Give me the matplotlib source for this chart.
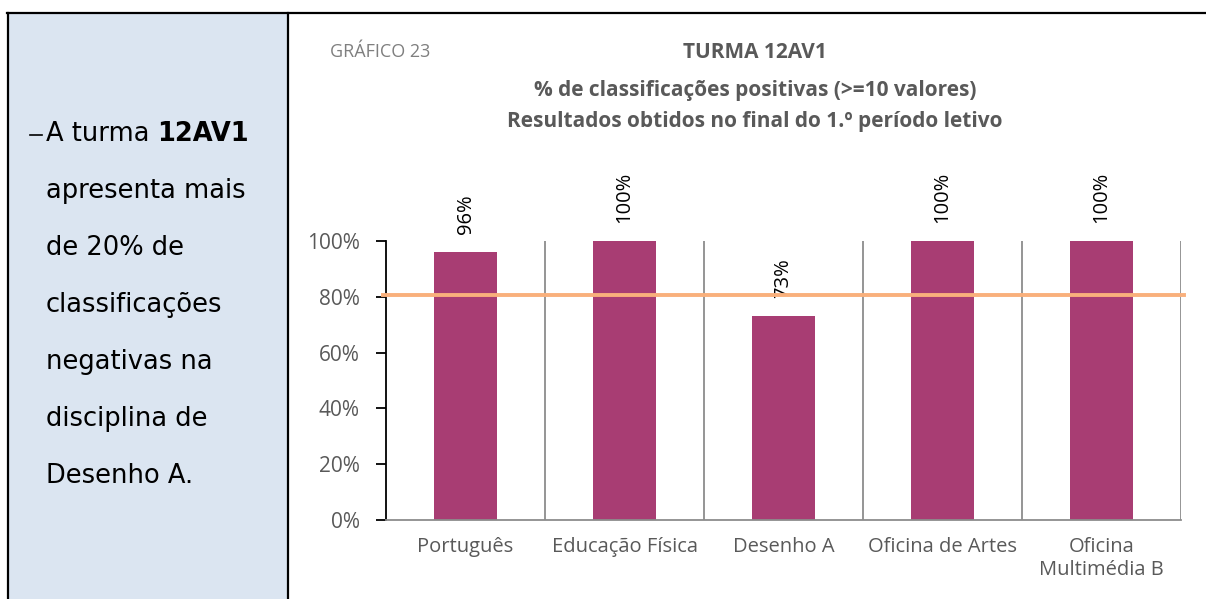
import matplotlib.pyplot as plt
from matplotlib.patches import Rectangle
from matplotlib.lines import Line2D
import numpy as np

# data
disciplinas = ['Português', 'Educação Física', 'Desenho A', 'Oficina de Artes', 'Oficina\nMultimédia B']
positivas = [96, 100, 73, 100, 100]
meta = 80.5

W, H = 1206, 599
fig = plt.figure(figsize=(W / 100, H / 100), dpi=100)

def fx(px):
    return px / W

def fy(py):
    return 1 - py / H

# left text panel
fig.patches.append(Rectangle((fx(8), 0), fx(280), fy(13), transform=fig.transFigure,
                             facecolor='#dbe5f1', edgecolor='none', zorder=0))
fig.lines.append(Line2D([fx(7), 1], [fy(12.5), fy(12.5)], transform=fig.transFigure, color='black', lw=1.6))
fig.lines.append(Line2D([fx(7.5), fx(7.5)], [0, fy(12.5)], transform=fig.transFigure, color='black', lw=1.6))
fig.lines.append(Line2D([fx(288), fx(288)], [0, fy(12.5)], transform=fig.transFigure, color='black', lw=1.6))

painel = [('A turma ', '12AV1'), ('apresenta mais', ''), ('de 20% de', ''), ('classificações', ''),
          ('negativas na', ''), ('disciplina de', ''), ('Desenho A.', '')]
fs_painel = 18.5
fig.lines.append(Line2D([fx(30), fx(42)], [fy(135), fy(135)], transform=fig.transFigure, color='black', lw=1.2))
for i, (txt, negrito) in enumerate(painel):
    y = fy(134 + i * 57)
    t = fig.text(fx(46), y, txt, fontsize=fs_painel, color='black', va='center', ha='left', family='DejaVu Sans')
    if negrito:
        fig.canvas.draw()
        bb = t.get_window_extent()
        fig.text(bb.x1 / W, y, negrito, fontsize=fs_painel, fontweight='bold', color='black',
                 va='center', ha='left', family='DejaVu Sans')

# chart
ax = fig.add_axes([fx(386), fy(520), fx(1181) - fx(386), fy(241) - fy(520)])
x = np.arange(len(disciplinas))
ax.bar(x, positivas, width=0.4, color='#a83d73', zorder=2)
ax.set_xlim(-0.5, len(disciplinas) - 0.5)
ax.set_ylim(0, 100)

for xv in np.arange(0.5, len(disciplinas), 1.0):
    ax.axvline(xv, color='#8c8c8c', lw=1.3, zorder=1)

ax.plot([-0.52, len(disciplinas) - 0.48], [meta, meta], color='#f9b07c', lw=2.8, zorder=5, clip_on=False)

for xi, v in zip(x, positivas):
    ax.annotate(f'{v}%', (xi, v), xytext=(0, 13), textcoords='offset points', rotation=90,
                ha='center', va='bottom', fontsize=14.5, color='black', family='Open Sans',
                zorder=4, annotation_clip=False)

ax.set_yticks(range(0, 101, 20))
ax.set_yticklabels([f'{v}%' for v in range(0, 101, 20)], fontsize=15, color='#595959', family='Open Sans')
ax.set_xticks(x)
ax.set_xticklabels(disciplinas, fontsize=14.5, color='#595959', family='Open Sans', va='top', linespacing=1.25)
ax.tick_params(axis='x', length=0, pad=12)
ax.tick_params(axis='y', length=7, width=1.3, color='black', direction='out', pad=12)

for s in ['top', 'right']:
    ax.spines[s].set_visible(False)
ax.spines['left'].set_color('black')
ax.spines['left'].set_linewidth(1.3)
ax.spines['bottom'].set_color('#8c8c8c')
ax.spines['bottom'].set_linewidth(1.3)

fig.text(fx(330), fy(52), 'GRÁFICO 23', fontsize=13, color='#7f7f7f', va='center', ha='left', family='Open Sans')
fig.text(fx(755), fy(52), 'TURMA 12AV1', fontsize=15, fontweight='bold', color='#595959', ha='center', va='center', family='Open Sans')
fig.text(fx(755), fy(90), '% de classificações positivas (>=10 valores)', fontsize=15, fontweight='bold',
         color='#595959', ha='center', va='center', family='Open Sans')
fig.text(fx(755), fy(121), 'Resultados obtidos no final do 1.º período letivo', fontsize=15, fontweight='bold',
         color='#595959', ha='center', va='center', family='Open Sans')

fig.savefig('out.png', dpi=100)
